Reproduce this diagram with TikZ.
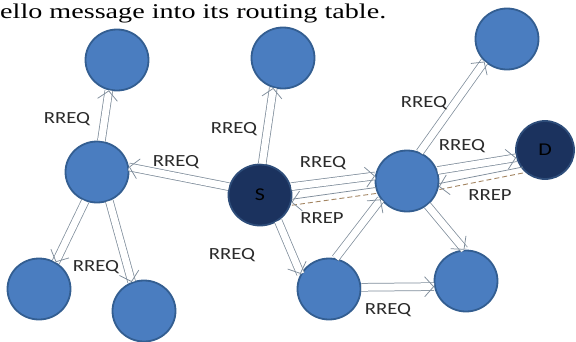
\documentclass[tikz,border=0pt]{standalone}
\usepackage{fontspec}
\setmainfont{Liberation Serif}
\newfontfamily\hdrfont[FakeStretch=1.34]{Liberation Serif}
\newfontfamily\lblfont[FakeStretch=1.22]{Carlito}
\usetikzlibrary{arrows.meta,shapes.geometric}
\definecolor{nodefill}{HTML}{4A7DC0}
\definecolor{nodeedge}{HTML}{335E91}
\definecolor{darkfill}{HTML}{1B325E}
\definecolor{darkedge}{HTML}{2E4D7A}
\definecolor{lgray}{HTML}{7F8D9B}
\definecolor{dashc}{HTML}{A38562}
\definecolor{txt}{HTML}{2B2B2B}
\tikzset{
 nd/.style={ellipse, draw=nodeedge, fill=nodefill, line width=1.8pt, minimum width=63pt, minimum height=61pt, inner sep=0pt},
 dk/.style={nd, fill=darkfill, draw=darkedge, font=\lblfont\fontsize{18}{18}\selectfont, text=black},
 lbl/.style={font=\lblfont\fontsize{17}{17}\selectfont, text=txt, inner sep=0pt},
 shaft/.style={draw=lgray, line width=0.75pt, double=white, double distance=7pt},
 tipl/.style={draw=lgray, line width=0.75pt, dash pattern=on 0pt off 2000pt, dash phase=1pt, -{Straight Barb[length=9pt, width=20pt]}},
 solidedge/.style={draw=lgray, line width=0.75pt},
 dashedge/.style={draw=dashc, line width=0.9pt, dash pattern=on 5pt off 3pt},
}
\newcommand\harrow[2]{\draw[shaft] (#1) -- (#2); \draw[tipl] (#1) -- (#2);}
\newcommand\rarrow[2]{\draw[solidedge, transform canvas={yshift=3pt}] (#1) -- (#2); \draw[dashedge, transform canvas={yshift=-3pt}] (#1) -- (#2); \draw[tipl] (#1) -- (#2);}
\begin{document}
\begin{tikzpicture}[x=1pt, y=-1pt]
\useasboundingbox (0,0) rectangle (576,341);
\fill[white] (0,0) rectangle (576,341);
\node[anchor=base west, font=\hdrfont\fontsize{21}{21}\selectfont, inner sep=0pt] (hdr) at (0,18) {ello message into its routing table.};
% nodes
\node[nd] (N1) at (117,60) {};
\node[nd] (N2) at (283,58) {};
\node[nd] (N3) at (507,39) {};
\node[nd] (A) at (97,172) {};
\node[dk] (S) at (260,195) {S};
\node[nd] (M) at (407,181) {};
\node[dk, minimum width=58pt, minimum height=58pt] (D) at (545,150) {D};
\node[nd] (L1) at (39,289) {};
\node[nd] (L2) at (144,311) {};
\node[nd] (B1) at (329,289) {};
\node[nd] (B2) at (466,281) {};
% connectors
\harrow{A.82}{N1.255}
\harrow{S.165}{A.9}
\harrow{S.86}{N2.252}
\harrow{S.15}{M.171}
\rarrow{M.197}{S.-13}
\harrow{M.66}{N3.225}
\harrow{M.19}{D.195}
\rarrow{D.222}{M.-10}
\harrow{A.248}{L1.58}
\harrow{A.-67}{L2.113}
\harrow{S.-55}{B1.152}
\harrow{B1.78}{M.215}
\harrow{M.-50}{B2.93}
\harrow{B1.3}{B2.190}
% labels
\node[lbl] (t1) at (67,119) {RREQ};
\node[lbl] (t2) at (176,162) {RREQ};
\node[lbl] (t3) at (234,129) {RREQ};
\node[lbl] (t4) at (323,163) {RREQ};
\node[lbl] (t5) at (322,218) {RREP};
\node[lbl] (t6) at (424,103) {RREQ};
\node[lbl] (t7) at (462,146) {RREQ};
\node[lbl] (t8) at (490,195) {RREP};
\node[lbl] (t9) at (232,255) {RREQ};
\node[lbl] (t10) at (96,267) {RREQ};
\node[lbl] (t11) at (388,310) {RREQ};
\end{tikzpicture}
\end{document}
